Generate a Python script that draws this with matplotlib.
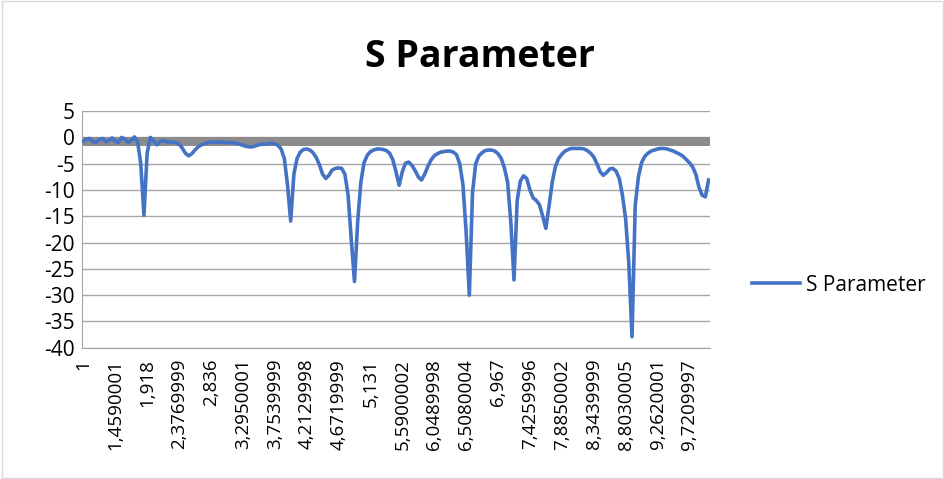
import matplotlib.pyplot as plt
from matplotlib.patches import Rectangle

plt.rcParams['font.family'] = ['Open Sans', 'DejaVu Sans']
plt.rcParams['axes.unicode_minus'] = False

# values, one per category (1 .. 10, step 0.0459)
s_param = [
    -0.7, -0.3, -0.2, -0.8, -0.9, -0.4, -0.2, -0.8, -0.6, -0.1,
    -0.7, -1.0, 0.0, -0.3, -1.0, -0.6, 0.1, -0.8, -5.0, -14.8,
    -3.0, 0.0, -0.6, -1.4, -0.8, -0.6, -0.8, -0.9, -0.9, -1.0,
    -1.3, -2.0, -3.0, -3.5, -3.1, -2.4, -1.8, -1.4, -1.2, -1.0,
    -0.9, -0.9, -0.9, -0.9, -0.9, -1.0, -1.0, -1.0, -1.1, -1.3,
    -1.5, -1.7, -1.8, -1.8, -1.6, -1.4, -1.3, -1.3, -1.2, -1.1,
    -1.2, -1.5, -2.2, -4.0, -9.0, -15.9, -7.0, -4.0, -2.8, -2.3,
    -2.2, -2.4, -2.9, -3.8, -5.2, -7.0, -7.8, -7.2, -6.2, -5.9,
    -5.8, -5.9, -7.0, -11.0, -19.5, -27.4, -16.0, -8.5, -4.8, -3.4,
    -2.7, -2.4, -2.2, -2.2, -2.3, -2.5, -3.0, -4.2, -6.5, -9.1,
    -6.5, -4.9, -4.7, -5.3, -6.3, -7.5, -8.1, -7.0, -5.5, -4.3,
    -3.5, -3.1, -2.8, -2.7, -2.6, -2.6, -2.8, -3.3, -5.0, -9.0,
    -18.0, -30.0, -10.5, -5.0, -3.5, -2.9, -2.5, -2.4, -2.4, -2.6,
    -3.1, -4.0, -5.8, -8.5, -16.0, -27.1, -12.0, -8.3, -7.3, -7.8,
    -10.0, -11.5, -12.0, -12.8, -15.0, -17.3, -13.0, -8.5, -5.5, -4.0,
    -3.2, -2.6, -2.3, -2.1, -2.1, -2.1, -2.1, -2.2, -2.5, -3.0,
    -3.7, -5.0, -6.5, -7.2, -6.7, -6.0, -5.9, -6.4, -7.8, -11.0,
    -15.5, -24.0, -37.9, -13.0, -7.5, -4.8, -3.6, -3.0, -2.6, -2.4,
    -2.2, -2.1, -2.1, -2.2, -2.4, -2.6, -2.9, -3.2, -3.6, -4.2,
    -4.8, -5.6, -7.0, -9.5, -11.0, -11.3, -8.1,
]

x_labels = ['1', '1,4590001', '1,918', '2,3769999', '2,836', '3,2950001',
            '3,7539999', '4,2129998', '4,6719999', '5,131', '5,5900002',
            '6,0489998', '6,5080004', '6,967', '7,4259996', '7,8850002',
            '8,3439999', '8,8030005', '9,2620001', '9,7209997']

fig = plt.figure(figsize=(9.45, 4.79), dpi=100)
ax = fig.add_axes([0.0865, 0.274, 0.665, 0.494])

idx = list(range(len(s_param)))
ax.axhspan(-1.6, 0, color='#8c8c8c', zorder=1, lw=0)
ax.plot(idx, s_param, color='#4472C4', lw=2.6, label='S Parameter', zorder=3)

ax.set_xlim(-0.5, len(s_param) - 0.5)
ax.set_ylim(-40, 5)
ax.set_yticks(range(-40, 6, 5))
ax.set_xticks(range(0, len(s_param), 10))
ax.set_xticklabels(x_labels, rotation=90, fontsize=13.5)
ax.tick_params(axis='y', labelsize=15, length=0, pad=5)
ax.tick_params(axis='x', length=0, pad=8)

ax.grid(axis='y', color='#a6a6a6', lw=1)
ax.set_axisbelow(True)
for s in ['top', 'right']:
    ax.spines[s].set_visible(False)
ax.spines['left'].set_color('#a6a6a6')
ax.spines['bottom'].set_color('#a6a6a6')

fig.text(0.508, 0.881, 'S Parameter', ha='center', va='center',
         fontsize=27, fontweight='bold')

fig.legend(loc='center left', bbox_to_anchor=(0.776, 0.405), frameon=False,
           fontsize=15, handlelength=2.3, handletextpad=0.3)

fig.patches.append(Rectangle((0.002, 0.003), 0.996, 0.994, transform=fig.transFigure,
                             fill=False, edgecolor='#d9d9d9', lw=1))

fig.savefig('out.png', dpi=100)
